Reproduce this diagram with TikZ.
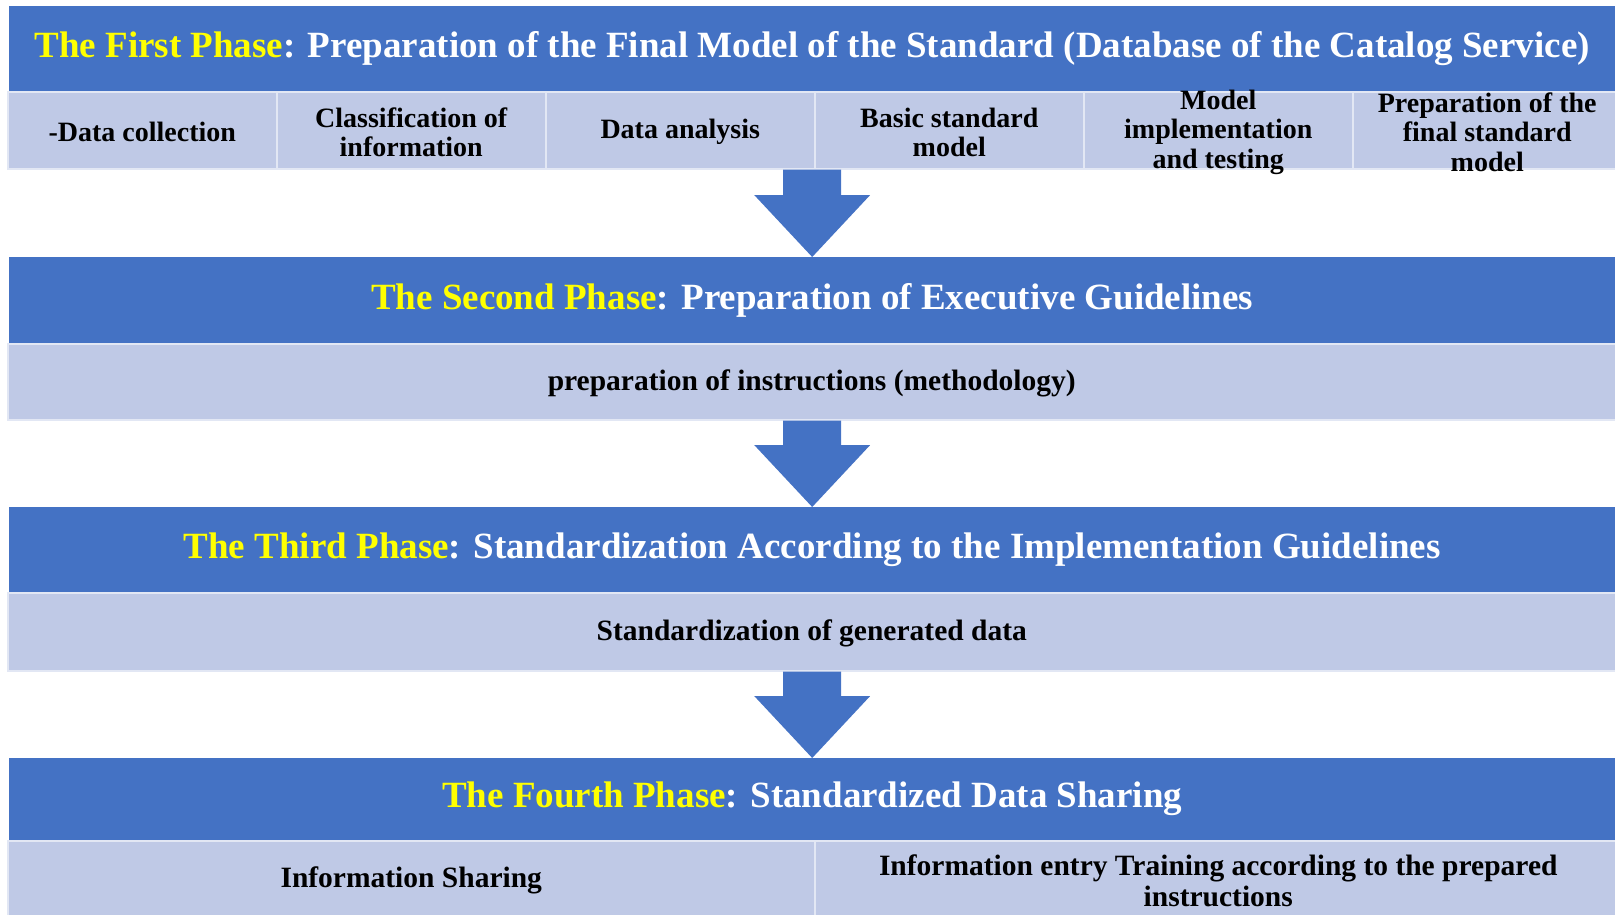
\documentclass[tikz,border=0pt]{standalone}
\usepackage{fontspec}
\setmainfont{Liberation Serif}
\usetikzlibrary{calc}
\definecolor{phaseblue}{HTML}{4472C4}
\definecolor{stepfill}{RGB}{191,201,230}
\definecolor{phaseyellow}{HTML}{FFFF00}
\tikzset{
	phasehead/.style={
			fill=phaseblue, text=white, anchor=north west, inner sep=0pt,
			minimum width=1606pt, minimum height=85pt,
			font=\fontsize{37}{40}\selectfont\bfseries
		},
	stepcell/.style={
			fill=stepfill, draw=white!55!stepfill, line width=1.5pt,
			anchor=north west, inner sep=0pt, minimum height=77pt
		},
	steptext/.style={
			align=center, inner sep=0pt, yshift=-2pt,
			font=\fontsize{29.5}{31}\selectfont\bfseries
		},
	smallsteptext/.style={
			steptext, font=\fontsize{28}{29.5}\selectfont\bfseries
		}
}
\newcommand{\phasename}[1]{\textcolor{phaseyellow}{#1}}
% block arrow from the bottom of one phase to the top of the next
\newcommand{\phasearrow}[2]{%
	\fill[phaseblue] ($(#1.south -| #2.north)+(-29,0)$) -- ($(#2.north)+(-29,-62)$)
	-- ($(#2.north)+(-58,-62)$) -- (#2.north) -- ($(#2.north)+(58,-62)$)
	-- ($(#2.north)+(29,-62)$) -- ($(#1.south -| #2.north)+(29,0)$) -- cycle;}

\begin{document}
\begin{tikzpicture}[x=1pt, y=-1pt]
		\useasboundingbox (0,0) rectangle (1615,914);

		% The first phase and its six steps
		\node[phasehead] (p1) at (9,6) {\phasename{The First Phase}: Preparation of the Final Model of the Standard (Database of the Catalog Service)};
		\foreach \txt [count=\i from 0] in {{-Data collection},{Classification of\\information},{Data analysis},{Basic standard\\model},{Model\\implementation\\and testing},{Preparation of the\\final standard\\model}}{
				\node[stepcell, minimum width=269pt] (s1-\i) at (7+269*\i,91) {};
				\node[smallsteptext] (t1-\i) at (s1-\i.center) {\txt};
			}

		% The second phase
		\node[phasehead, minimum height=86pt] (p2) at (9,257) {\phasename{The Second Phase}: Preparation of Executive Guidelines};
		\node[stepcell, minimum width=1608pt, minimum height=76pt] (s2) at (7,343) {};
		\node[steptext] (t2) at (s2.center) {preparation of instructions (methodology)};

		% The third phase
		\node[phasehead] (p3) at (9,507) {\phasename{The Third Phase}: Standardization According to the Implementation Guidelines};
		\node[stepcell, minimum width=1608pt, minimum height=78pt] (s3) at (7,592) {};
		\node[steptext] (t3) at (s3.center) {Standardization of generated data};

		% The fourth phase
		\node[phasehead, minimum height=82pt] (p4) at (9,758) {\phasename{The Fourth Phase}: Standardized Data Sharing};
		\node[stepcell, minimum width=807pt, minimum height=76pt] (s4a) at (7,840) {};
		\node[stepcell, minimum width=807pt, minimum height=76pt] (s4b) at (814,840) {};
		\node[steptext] (t4a) at (s4a.center) {Information Sharing};
		\node[steptext] (t4b) at (s4b.center) {Information entry Training according to the prepared\\instructions};

		% Arrows between the phases
		\phasearrow{s1-3}{p2}
		\phasearrow{s2}{p3}
		\phasearrow{s3}{p4}
	\end{tikzpicture}
\end{document}
